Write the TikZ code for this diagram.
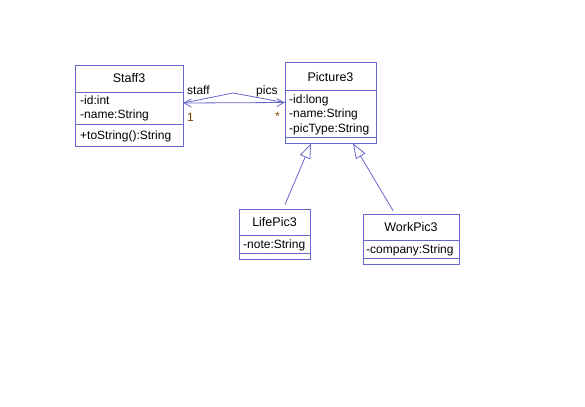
\documentclass[tikz,border=0pt]{standalone}
\usepackage{fontspec}
\setmainfont{Liberation Sans}
\usepackage{tikz}
\usetikzlibrary{arrows.meta}

\definecolor{umlline}{RGB}{102,102,204}
\definecolor{umlmult}{RGB}{128,64,0}

\begin{document}
\begin{tikzpicture}[x=1bp,y=-1bp]
\tikzset{classbox/.style = {shape=rectangle,draw=umlline,line width=0.8bp,inner sep=0pt}}
\tikzset{member/.style = {anchor=base west,inner sep=0pt,font=\fontsize{12bp}{14bp}\selectfont}}
\tikzset{title/.style = {anchor=base,inner sep=0pt,font=\fontsize{12.5bp}{14bp}\selectfont}}
\tikzset{mult/.style = {anchor=base west,inner sep=0pt,text=umlmult,font=\fontsize{12bp}{14bp}\selectfont}}
\tikzset{divider/.style = {draw=umlline,line width=0.8bp}}
\tikzset{assoc/.style = {draw=umlline,line width=0.8bp,{Straight Barb[length=7bp,width=8bp]}-{Straight Barb[length=7bp,width=8bp]}}}
\tikzset{inherit/.style = {draw=umlline,line width=0.8bp,-{Triangle[fill=white,length=15bp,width=11bp]}}}
\useasboundingbox (0,0) rectangle (585,406);

% classes
\node[classbox,minimum width=108bp,minimum height=81bp] (staff)   at (129,105.5) {};
\node[classbox,minimum width=91bp, minimum height=81bp] (picture) at (330.5,102.5) {};
\node[classbox,minimum width=71bp, minimum height=50bp] (lifepic) at (274.5,234) {};
\node[classbox,minimum width=96bp, minimum height=50bp] (workpic) at (411,239) {};

% compartments
\draw[divider] (staff.west |- 0,92)    -- (staff.east |- 0,92);
\draw[divider] (staff.west |- 0,124)   -- (staff.east |- 0,124);
\draw[divider] (picture.west |- 0,90)  -- (picture.east |- 0,90);
\draw[divider] (picture.west |- 0,137) -- (picture.east |- 0,137);
\draw[divider] (lifepic.west |- 0,235) -- (lifepic.east |- 0,235);
\draw[divider] (lifepic.west |- 0,253) -- (lifepic.east |- 0,253);
\draw[divider] (workpic.west |- 0,240) -- (workpic.east |- 0,240);
\draw[divider] (workpic.west |- 0,258) -- (workpic.east |- 0,258);

% texts
\node[title] (staff-name) at (129,82) {Staff3};
\node[member] (staff-id) at (80,104) {-id:int};
\node[member] (staff-nm) at (80,118) {-name:String};
\node[member] (staff-ts) at (80,139) {+toString():String};

\node[title] (picture-name) at (330.5,81) {Picture3};
\node[member] (picture-id) at (289,103) {-id:long};
\node[member] (picture-nm) at (289,117.5) {-name:String};
\node[member] (picture-ty) at (289,132) {-picType:String};

\node[title] (lifepic-name) at (274.5,226) {LifePic3};
\node[member] (lifepic-nt) at (243,248) {-note:String};

\node[title] (workpic-name) at (411,231) {WorkPic3};
\node[member] (workpic-co) at (366,253) {-company:String};

% edges
\coordinate (bend) at (233,93);
\draw[assoc] ([yshift=2.5bp]staff.east) -- (picture.west);
\draw[draw=umlline,line width=0.8bp] ([yshift=2.5bp]staff.east) -- (bend) -- (picture.west);
\node[member] (lbl-staff) at (187,94) {staff};
\node[member] (lbl-pics) at (256,94) {pics};
\node[mult] (mult-staff) at (187,121) {1};
\node[mult] (mult-pics) at (275,120) {*};

\draw[inherit] ([xshift=10.5bp,yshift=4bp]lifepic.north) -- ([xshift=-19.5bp]picture.south);
\draw[inherit] ([xshift=-18bp,yshift=3bp]workpic.north) -- ([xshift=22.5bp]picture.south);

\end{tikzpicture}
\end{document}
